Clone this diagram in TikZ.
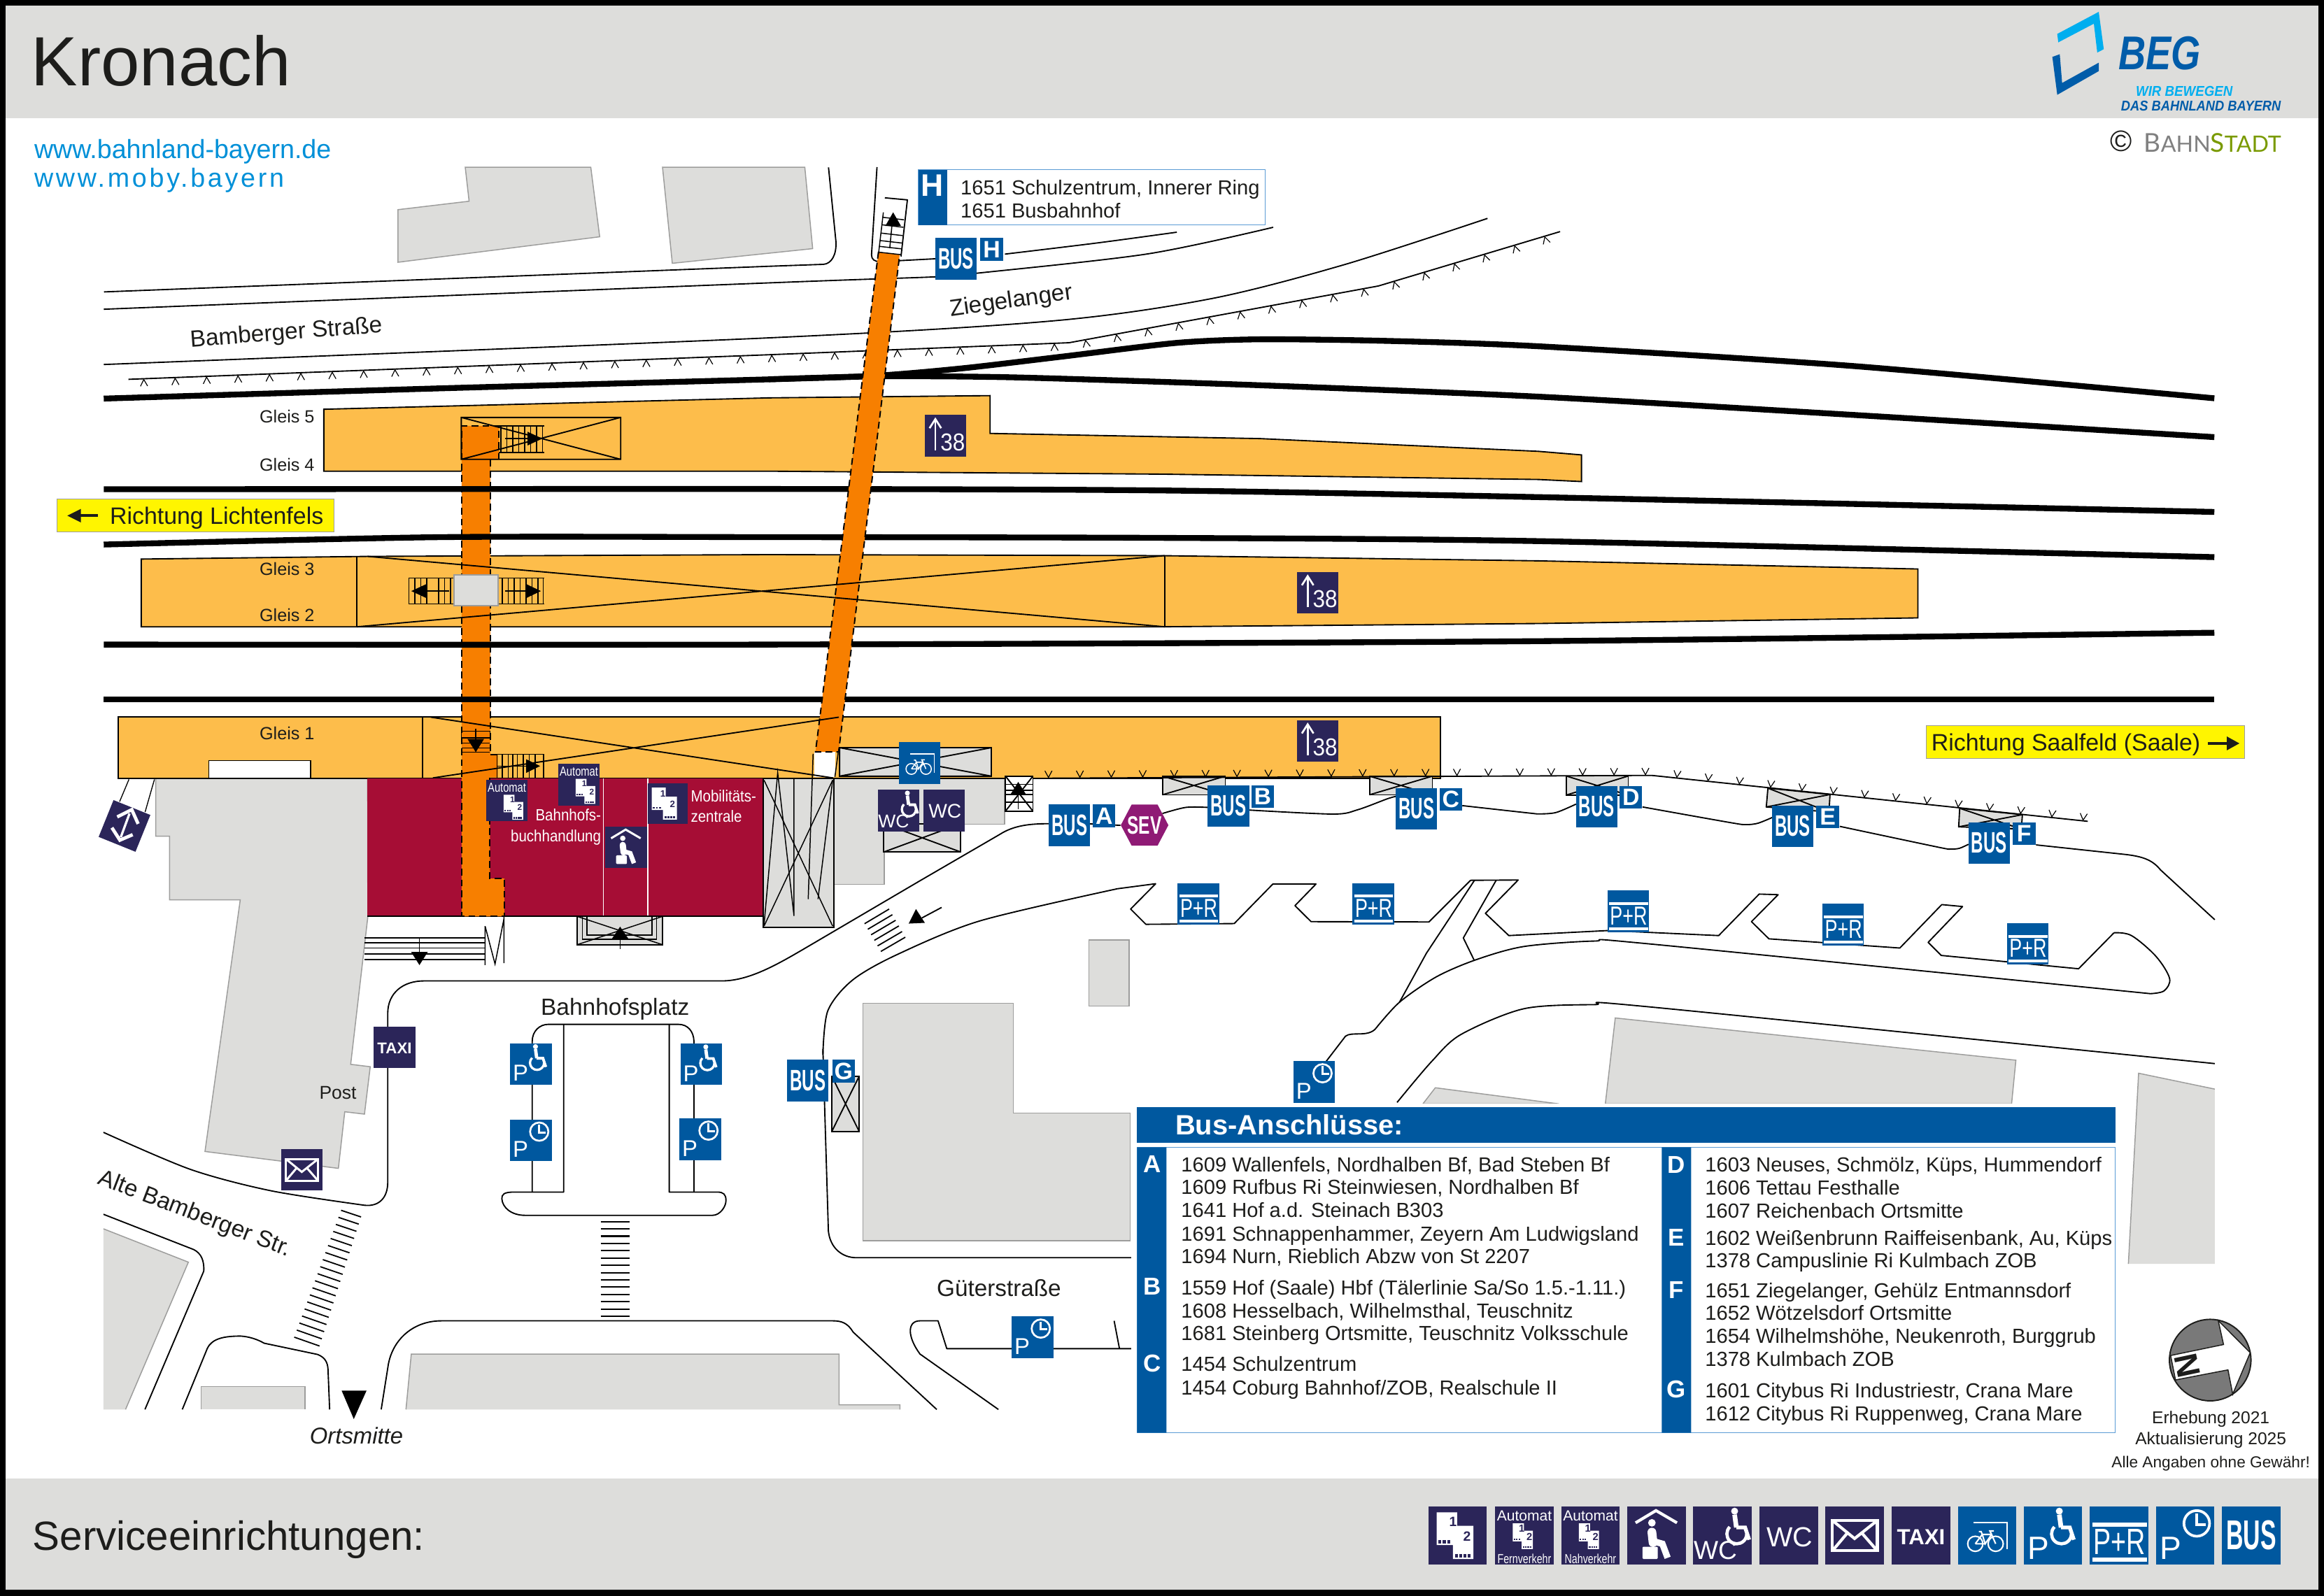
\documentclass[tikz,border=0pt]{standalone}
\usepackage{fontspec}
\setmainfont{Liberation Sans}
\newfontfamily\latof{Lato}
\usetikzlibrary{decorations.markings}
\definecolor{navyc}{HTML}{2B2559}
\definecolor{blueb}{HTML}{00589F}
\definecolor{plat}{HTML}{FDBD4B}
\definecolor{oran}{HTML}{F77F00}
\definecolor{burg}{HTML}{A60D35}
\definecolor{purp}{HTML}{8F1A75}
\definecolor{grayb}{HTML}{DDDDDB}
\definecolor{grayl}{HTML}{9D9D9C}
\definecolor{yelw}{HTML}{FFF500}
\definecolor{cyant}{HTML}{0090D8}
\definecolor{inkc}{HTML}{1D1D1B}
\definecolor{lblue}{HTML}{00AEEF}
\definecolor{dblue}{HTML}{005CA9}
\definecolor{edgeb}{HTML}{5B9BD5}
\definecolor{stadt}{HTML}{7A9A01}
\newcommand{\fu}[1]{\fontsize{\fpeval{round((#1)*1.42264,2)}}{\fpeval{round((#1)*1.6,2)}}\selectfont}
\newcount\nodeid
\tikzset{
 autoname/.code={\global\advance\nodeid by 1 \tikzset{name=auto\the\nodeid}},
 road/.style={line width=1.25pt,line join=round,draw=black},
 track/.style={line width=5.6pt,draw=black,line join=round},
 bld/.style={fill=grayb,draw=grayl,line width=1pt},
 platf/.style={fill=plat,draw=black,line width=1.25pt},
 dsh/.style={draw=black,line width=1.3pt,dash pattern=on 6.5pt off 4pt},
 xb/.style={draw=black,line width=1.25pt},
 stp/.style={draw=black,line width=1pt},
 sgn/.style={inner sep=0pt,outer sep=0pt,draw=none},
 wt/.style={autoname,text=white,inner sep=0pt,text depth=0pt},
 lab/.style={autoname,text=inkc,inner sep=0pt,text depth=0pt},
 wl/.style={line width=#1*\sgnu mm},
 ltr/.style={fill=blueb,text=white,inner sep=0pt,minimum size=7.65mm,font=\fu{16}\bfseries},
 pl/.style={autoname,text=inkc,inner sep=0pt,anchor=base west,font=\fu{13.75}},
 pletter/.style={autoname,text=white,inner sep=0pt,text depth=0pt,font=\fu{16.5}\bfseries},
 ticked top/.style={postaction={decorate},decoration={markings,mark=between positions 5.15mm and 1 step 10.6mm with {\draw[line width=.8pt] (-2.4,5) -- (0,.5) -- (2.4,5);}}},
 ticked low/.style={postaction={decorate},decoration={markings,mark=between positions 0.2mm and 1 step 10.6mm with {\draw[line width=.8pt] (-2.4,-5) -- (0,-.5) -- (2.4,-5);}}},
}
\newcommand{\signbox}[6]{%
 \node[sgn,fill=#5,minimum size={#4*0.5mm}] (#1) at ({#2+#4/2},{#3+#4/2}) {};
 \pgfmathsetmacro{\sgnu}{#4*0.005}%
 \begin{scope}[shift={(#2,#3)},x=\sgnu mm,y=-\sgnu mm,every node/.append style={scale=#4/28}]#6\end{scope}}
\newcommand{\ltrsign}[4]{\node[ltr] (#1) at ({#2+7.65},{#3+7.65}) {#4};}
\newcommand{\xbox}[4]{\draw[xb,fill=grayb] (#1,#2) rectangle (#3,#4); \draw[xb] (#1,#2) -- (#3,#4) (#1,#4) -- (#3,#2);}
\newcommand{\tri}[6]{\fill[black] (#1,#2) -- (#3,#4) -- (#5,#6) -- cycle;}
\newcommand{\icBus}{\node[wt,font=\fu{20}\bfseries,xscale=.57] at (50,49) {BUS};}
\newcommand{\icP}{\node[wt,font=\fu{15.5}] at (25,72) {P};}
\newcommand{\icClock}{\icP\draw[white,wl=4.5] (70,29) circle[radius=22]; \draw[white,wl=4.5] (70,12) -- (70,31) -- (86,31);}
\newcommand{\icChair}[1]{\begin{scope}[shift={(#1,0)}]
 \fill[white] (71,8) circle[radius=6];
 \draw[white,wl=8] (71,14) -- (74,36);
 \draw[white,wl=6.5] (74,36) -- (89,36) -- (96,57);
 \draw[white,wl=5.5] (62.7,35) arc[start angle=225,end angle=0,radius=17];
 \end{scope}}
\newcommand{\icPchair}{\icP\icChair{-10}}
\newcommand{\icWc}{\node[wt,font=\fu{13.3}] at (52,52) {WC};}
\newcommand{\icWcChair}{\node[wt,font=\fu{12.5}] at (38,75) {WC};\icChair{0}}
\newcommand{\icTaxi}{\node[wt,font=\fu{10.5}\bfseries] at (50,52) {TAXI};}
\newcommand{\icPR}{\fill[white] (4,28) rectangle (98,35); \fill[white] (4,88) rectangle (98,95);
 \node[wt,font=\fu{17.6},xscale=.72] at (51,61) {P+R};}
\newcommand{\icBike}{\draw[white,wl=2.5] (27,28) -- (85,28) -- (85,73);
 \draw[white,wl=2.5] (30,64) circle[radius=13] (65,64) circle[radius=13];
 \draw[white,wl=2.5] (30,64) -- (42,48) -- (58,48) -- (65,64) (42,48) -- (47,64) -- (58,48) (47,64) -- (30,64) (58,48) -- (55,42) -- (62,42) (42,48) -- (40,43) -- (36,43);}
\newcommand{\icMail}{\draw[white,wl=5] (12,24) rectangle (89,76);
 \draw[white,wl=5] (12,24) -- (50,55) -- (89,24) (12,76) -- (38,45) (89,76) -- (62,45);}
\newcommand{\icWait}{\draw[white,wl=5] (14,28) -- (49,7) -- (85,28);
 \fill[white] (42,28) circle[radius=6.5];
 \draw[white,wl=15,line cap=round] (42,44) -- (44,62);
 \draw[white,wl=11] (46,60) -- (60,64) -- (69,88);
 \fill[white,rounded corners=.3mm] (26,69) rectangle (52,90);}
\newcommand{\icTick}[3]{\begin{scope}[shift={(#1,#2)},scale=#3]
 \fill[white] (14,10) -- (49,10) -- (49,33) -- (77,33) -- (77,90) -- (42,90) -- (42,66) -- (14,66) -- cycle;
 \node[wt,text=navyc,font=\fu{3+3.5*#3}\bfseries] at (42,26) {1};
 \node[wt,text=navyc,font=\fu{3+3.5*#3}\bfseries] at (66,51) {2};
 \foreach \q in {17,24.5,32} {\fill[navyc] (\q,58) rectangle +(5,5);}
 \foreach \q in {46,53,60,67} {\fill[navyc] (\q,82) rectangle +(5,5);}
 \end{scope}}
\newcommand{\icUp}{\draw[white,wl=4.5] (26,85) -- (26,14); \draw[white,wl=4.5] (12,32) -- (26,10) -- (40,32);
 \node[wt,font=\fu{16.5},xscale=.9] at (68,65) {38};}
\newcommand{\pline}[3]{\node[pl] at ({#1},{#2+4.9}) {#3};}
\begin{document}
\begin{tikzpicture}[x=0.5mm,y=-0.5mm]
\useasboundingbox (0,0) rectangle (1568,1077.1);
% frame
\fill[black] (0,0) rectangle (1568,1077.1);
\fill[white] (4,4) rectangle (1564,1073);
\fill[grayb] (4,4) rectangle (1564,80);
\fill[grayb] (4,998) rectangle (1564,1073);
\node[lab,anchor=west,font=\fu{47}] (title) at (21,41) {Kronach};
\node[lab,anchor=west,font=\fu{27.5}] (service) at (22,1036) {Serviceeinrichtungen:};
\node[autoname,anchor=west,inner sep=0pt,text=cyant,font=\fu{17.75}] at (23,102.3) {www.bahnland-bayern.de};
\node[autoname,anchor=west,inner sep=0pt,text=cyant,font=\fu{17.75}\addfontfeature{LetterSpace=10}] at (23,121.5) {www.moby.bayern};
% logo
\fill[lblue] (1388,22.9) -- (1416,8) -- (1419.4,33.2) -- (1415,35.5) -- (1412.7,16) -- (1388.7,28.6) -- cycle;
\fill[dblue] (1384.7,38.4) -- (1389.7,36.6) -- (1391.3,56) -- (1416,42.3) -- (1416,48) -- (1388,64) -- cycle;
\node[autoname,inner sep=0pt,text=dblue,font=\fu{32}\bfseries\itshape,xscale=.8] at (1457,36) {BEG};
\node[autoname,inner sep=0pt,text=lblue,font=\fu{9.6}\bfseries\itshape,xscale=.92] at (1473.7,61.7) {WIR BEWEGEN};
\node[autoname,inner sep=0pt,text=dblue,font=\fu{9.6}\bfseries\itshape,xscale=.9] at (1485,71.5) {DAS BAHNLAND BAYERN};
\node[autoname,inner sep=0pt,text=inkc,font=\fu{20}] at (1431.3,95.4) {©};
\node[autoname,inner sep=0pt,anchor=base west,font=\latof] at (1446.5,102.5) {\textcolor{gray}{\fu{17.5}B\fu{15.2}AHN}\textcolor{stadt}{\fu{17.5}S\fu{15.2}TADT}};
% buildings
\path[bld] (313.9,112.9) -- (398.6,112.9) -- (404.6,159.8) -- (268.5,177) -- (268.5,141.5) -- (316.5,135.8) -- cycle;
\path[bld] (447,112.9) -- (543,112.9) -- (548.3,167.8) -- (453.6,177.7) -- cycle;
\path[bld] (105.1,525.4) -- (248,525.4) -- (248.2,618.5) -- (236.6,718.3) -- (249.8,719.9) -- (245.9,751.9) -- (232.6,750.3) -- (228.3,788.5) -- (138.3,777.1) -- (162.1,607.3) -- (114.4,607.3) -- (114.4,564.3) -- (105.1,564.3) -- cycle;
\path[bld] (562.8,524) -- (677.7,524) -- (677.7,556.3) -- (596.6,556.3) -- (596.6,596.8) -- (562.8,596.8) -- cycle;
\path[bld] (734.7,634.3) rectangle (761.8,678.9);
\path[bld] (582.3,677) -- (683.7,677) -- (683.7,751.2) -- (762.5,751.2) -- (762.5,837.4) -- (582.3,837.4) -- cycle;
\path[bld] (1089.8,687) -- (1360.1,715.5) -- (1357.2,745) -- (1083.1,745) -- cycle;
\path[bld] (960,745) -- (968.4,734.1) -- (1051.9,745) -- cycle;
\fill[grayb] (1442.9,724.3) -- (1494.3,735) -- (1494.3,853) -- (1436,853) -- cycle;
\draw[grayl,line width=1pt] (1436,853) -- (1442.9,724.3) -- (1494.3,735);
\fill[grayb] (69.8,829.3) -- (127.1,851.8) -- (84.7,951.2) -- (69.8,951.2) -- cycle;
\draw[grayl,line width=1pt] (69.8,829.3) -- (127.1,851.8) -- (84.7,951.2);
\fill[grayb] (135.7,935.8) rectangle (205.7,951.2);
\draw[grayl,line width=1pt] (135.7,951.2) |- (205.7,935.8) -- (205.7,951.2);
\fill[grayb] (277.5,913.8) -- (566.1,913.8) -- (566.1,948.1) -- (607.2,948.1) -- (607.2,951.2) -- (273.9,951.2) -- cycle;
\draw[grayl,line width=1pt] (273.9,951.2) -- (277.5,913.8) -- (566.1,913.8) -- (566.1,948.1) -- (607.2,948.1) -- (607.2,951.2);
% platforms
\path[platf] (218.5,276.2) -- (519,268.5) -- (668,267) -- (668,292.5) -- (850,296) -- (1038,304.6) -- (1067,307) -- (1067,325) -- (1038,323.6) -- (784,320) -- (519,318) -- (218.5,318) -- cycle;
\path[platf] (95.3,377.3) -- (248,375.5) -- (519,374.3) -- (784,375) -- (1038,378.5) -- (1294,384) -- (1294,417) -- (1038,420.8) -- (784,423) -- (95.3,423) -- cycle;
\path[platf] (79.6,484) rectangle (971.8,525.4);
\fill[white] (141,513.3) rectangle (209.5,525);
\draw[line width=1pt] (141,525) |- (209.5,513.3) -- (209.5,525);
\draw[line width=1pt] (240.7,375.5) -- (240.7,423) (785.8,375) -- (785.8,423) (285,484) -- (285,525.4);
% station building
\fill[burg] (248,525.4) rectangle (514.7,618.5);
\draw[line width=1.25pt] (248,618.5) -- (514.7,618.5);
\draw[white,line width=1.2pt] (407.1,525.4) -- (407.1,618.5) (437.2,525.4) -- (437.2,618.5);
% left underpass
\path[fill=oran] (311.5,287.4) -- (336.7,287.4) -- (336.7,310.3) -- (330.8,310.3) -- (330.8,509.4) -- (335.9,509.4) -- (335.9,524.7) -- (330.6,524.7) -- (330.6,592.9) -- (340.2,592.9) -- (340.2,618.5) -- (311.5,618.5) -- cycle;
\draw[dsh] (336.7,310.3) -- (336.7,287.4) -- (311.5,287.4) -- (311.5,618.5) -- (340.2,618.5) -- (340.2,592.9) -- (330.6,592.9) -- (330.6,524.7);
\draw[dsh] (330.8,310.3) -- (330.8,509.4) -- (335.9,509.4);
% tracks
\draw[track] plot[smooth,tension=.45] coordinates {(70,269) (300,262) (519,256) (592,253.5) (650,248.5) (718,240.5) (794,231.4) (850,229) (933,230) (1038,233.7) (1250,247) (1494,268.8)};
\draw[track] plot[smooth,tension=.45] coordinates {(519,256) (592,254) (685,254.7) (850,260) (1038,267.7) (1250,280) (1494,295)};
\draw[track] plot[smooth,tension=.45] coordinates {(70,330.2) (519,330) (784,331) (1038,335.5) (1494,345.5)};
\draw[track] plot[smooth,tension=.45] coordinates {(70,367.5) (298,362.5) (519,362.5) (784,363) (1038,365.2) (1494,376)};
\draw[track] plot[smooth,tension=.45] coordinates {(70,435) (519,435) (1038,432.7) (1494,427)};
\draw[track] (70,471.9) -- (1494,471.9);
% roads, top
\draw[road] (70.2,197) -- (519,179.7) -- (555.6,178.4) .. controls (561,178) and (564.5,172) .. (564,163) -- (559,113);
\draw[road] plot[smooth,tension=.5] coordinates {(70,208.7) (519,190.9) (631.8,186.8) (658,184.5) (774,171.4) (859,153.4)};
\draw[road] (591.7,112.8) -- (588,172) .. controls (588,175) and (590,176.6) .. (593.8,176.6) -- (631.8,174.6);
\draw[road] plot[smooth,tension=.5] coordinates {(678,171.5) (740,164) (794,156.7)};
\draw[road] plot[smooth,tension=.5] coordinates {(70,246) (519,228) (711,216.5) (817,201.6) (906.7,178.7) (1003.6,147.4)};
\draw[road,ticked top] (86.7,256) -- (519,239.4) -- (721.3,231.3) -- (930,193) -- (1052.6,156.3);
% roads, station forecourt
\draw[road] plot[smooth,tension=.5] coordinates {(69.8,764.2) (128.5,789.2) (182.7,803.6) (245.9,813.4)};
\draw[road] (245.9,813.4) .. controls (256,814.5) and (261.6,808) .. (261.6,798) -- (261.6,684) .. controls (261.6,670) and (272,662) .. (286,662) -- (487,662) .. controls (506,662) and (526,650) .. (545.3,638.7) -- (621.4,594) -- (674.4,563.2) .. controls (684,557) and (695,555.9) .. (707.5,555.9);
\draw[road] (735,556) -- (756,557);
\draw[road] plot[smooth,tension=.5] coordinates {(784.3,549) (800,544.9) (814.8,544.9)};
\draw[road] plot[smooth,tension=.5] coordinates {(843,546.7) (899.5,549.4) (916,546.5) (936,539.1) (941.6,537.5)};
\draw[road] plot[smooth,tension=.5] coordinates {(986.6,543.7) (1031.7,548.7) (1039,549.3) (1050,548.3) (1063.3,542.7)};
\draw[road] plot[smooth,tension=.5] coordinates {(1108.2,544.6) (1167.7,555.2) (1178,556.5) (1186,555.6) (1195.7,551.7)};
\draw[road] plot[smooth,tension=.5] coordinates {(1241.3,557.7) (1307.5,571.7) (1316,573) (1322,572.5) (1328.1,569.8)};
\draw[road] (1373.7,570.2) -- (1434.4,576.7) .. controls (1445,578) and (1452,580) .. (1457.6,587) -- (1494.3,620.7);
% lane island
\draw[road] plot[smooth,tension=.5] coordinates {(555.2,711.9) (558.5,682.2) (575,661.6) (604.9,644.4) (661.1,621.5) (753.9,599.8)};
\draw[road] (753.9,599.8) -- (779.7,596.4) -- (762.8,613.5) -- (773.1,623.8) -- (832.7,623.3) -- (858.8,596.6) -- (887.9,596.6) -- (873.7,611.2) -- (884.6,622) -- (964.1,622.2) -- (992.2,594.1) -- (1024.3,593.9) -- (1002.2,616.4) -- (1018,631.4) -- (1085,628) -- (1159.6,631.4) -- (1186.9,603.4) -- (1199.7,603.8) -- (1181.7,622) -- (1193.5,633.6) -- (1281.8,639.8) -- (1310.1,610.5) -- (1324.1,611.8) -- (1300.9,636) -- (1309.7,644.8) -- (1402.4,653.8) -- (1426.3,629.5);
\draw[road] plot[smooth,tension=.55] coordinates {(1426.3,629.5) (1438.1,631.4) (1454.6,645.4) (1463.8,660.3) (1460.1,668.7) (1450.9,670.6)};
\draw[road] plot[smooth,tension=.5] coordinates {(1450.9,670.6) (1112.6,637) (1075.8,635.1) (1028,638.8) (995.6,647.8) (969,659.3) (944.2,676.4) (927.7,694.7)};
\draw[road] (927.7,694.7) .. controls (922,700) and (912,696) .. (907.8,699.3) -- (894.6,716.5);
\draw[road] (944.2,676.4) -- (962.4,643.3) -- (994.9,594);
\draw[road] (1009.5,594) -- (987.3,633) -- (994.5,647.8);
\draw[road] plot[smooth,tension=.5] coordinates {(942.6,744) (965.8,716.5) (985.6,698.2) (1028,680.8) (1075.8,678) (1112.6,679.5) (1494.3,717.8)};
% roads, south
\draw[road] (555.2,707.9) -- (558.9,830.7) .. controls (560,842) and (568,848.8) .. (577.8,848.8) -- (767,848.8);
\draw[road] (359.1,804.5) -- (359.1,702.7) .. controls (359.1,696) and (364,691.3) .. (370,691.3) -- (457.7,691.3) .. controls (464,691.3) and (468,696) .. (468.2,702.7) -- (468.2,804.5);
\draw[road] (380.3,691.3) -- (380.3,804.5) -- (347,804.5) .. controls (340,804.5) and (338.5,806) .. (338.6,809) .. controls (339,815) and (345,820.2) .. (354.3,820.2) -- (480.7,820.2) .. controls (486,820.2) and (490,814) .. (489.8,810) .. controls (489.8,806) and (488,804.5) .. (484,804.5) -- (451.5,804.5) -- (451.5,691.3);
\draw[road] (69.8,819.5) -- (130.7,843.3) .. controls (136,846) and (137.8,851) .. (137.5,857.8) -- (97.8,951.2);
\draw[road] (123,951.2) -- (139.8,910.2) .. controls (143,903) and (152,901.7) .. (162.4,901.7) .. controls (168,902) and (174,904) .. (178.2,906.5) -- (214.3,914.1) .. controls (219,916) and (221,919) .. (221.3,924) -- (222.4,951.2);
\draw[road] (257.2,951.2) -- (261.7,922.8) .. controls (264,905) and (278,891.4) .. (297.8,891.4) -- (562,891.4) .. controls (568,891.4) and (572,893) .. (575.6,899) -- (632,951.2);
\draw[road] (673.6,951.2) -- (620.7,913.8) .. controls (612,902) and (612,891.4) .. (620.7,891.4) -- (632.9,891.4) -- (638.8,910.2) -- (767,910.2);
\draw[road] (751.7,891.4) -- (755.3,910.2);
% crossings
\foreach \t in {0,...,18} {\draw[line width=1.2pt] ({230.1-31.6*\t/18},{816.8+85.6*\t/18}) -- ({243.6-28*\t/18},{821.3+87.1*\t/18});}
\foreach \t in {0,...,13} {\draw[line width=1.4pt] (405.3,{824.4+4.92*\t}) -- (424.7,{824.4+4.92*\t});}
\foreach \t in {0,...,5} {\draw[line width=1.2pt] ({583.3+2.2*\t},{623.4+3.74*\t}) -- ({599.9+2.18*\t},{613.5+3.8*\t});}
\draw[road] (635.3,612.4) -- (622,619.5);
\tri{613.1}{623.3}{618}{613.5}{624}{622.8}
\tri{230.5}{938.5}{247.3}{938.5}{238.7}{957.7}
% right footbridge
\fill[white] (549.2,507.6) -- (563.5,507.6) -- (563.5,524.3) -- (549.2,524.3) -- cycle;
\fill[oran] (592.7,170) -- (607,172) -- (565.8,507.5) -- (550.2,507.5) -- cycle;
\draw[dsh] (592.7,170) -- (550.2,507.5) -- (565.8,507.5) -- (607,172);
% platform crossings
\draw[xb] (248,375.5) -- (785.8,423) (241,423) -- (785.8,375);
\draw[xb] (290.6,484) -- (562,525) (292,525) -- (566,484);
\draw[xb] (311.2,281.7) rectangle (418.8,310) (311.2,281.7) -- (418.8,310) (311.2,310) -- (418.8,281.7);
% stairs over bridge 4/5
\draw[stp] (336.7,287.4) -- (367,287.4) (336.7,305.3) -- (367,305.3);
\foreach \q in {338,342,346,350,354,358,362,366} {\draw[stp] (\q,287.4) -- (\q,305.3);}
\draw[stp] (341,296) -- (356,296); \tri{365.9}{296}{356}{291.4}{356}{300.6}
% concourse 2/3
\path[bld,line width=1.4pt] (306.3,388.1) rectangle (336,408.8);
\draw[stp] (275.5,390) -- (306,390) (275.5,407.6) -- (306,407.6) (336.7,390) -- (367,390) (336.7,407.6) -- (367,407.6);
\foreach \q in {276,280,284,288,296,300,304} {\draw[stp] (\q,390) -- (\q,407.6);}
\foreach \q in {339,343,347,351,355,359,363,366.5} {\draw[stp] (\q,390) -- (\q,407.6);}
\draw[stp] (287,398.9) -- (303,398.9) (341,398.9) -- (356,398.9);
\tri{277.5}{398.9}{287.4}{394.3}{287.4}{403.5}
\tri{364.9}{398.9}{355.3}{394.3}{355.3}{403.5}
% stairs platform 1
\draw[stp] (311.4,493.4) -- (330.6,493.4) (311.4,498) -- (330.6,498) (311.4,501.4) -- (330.6,501.4) (311.4,504.8) -- (330.6,504.8) (311.4,507.6) -- (330.6,507.6);
\draw[stp] (311.4,493.4) -- (311.4,498) (330.6,493.4) -- (330.6,498);
\draw[stp] (321,491.6) -- (321,499); \tri{321}{507.6}{315.4}{498.7}{326.6}{498.7}
\draw[stp] (335.3,509) -- (366.7,509);
\foreach \q in {335.3,339,343,346,349,353,357,361,366.7} {\draw[stp] (\q,509) -- (\q,524.7);}
\draw[stp] (335,517) -- (355,517); \tri{364.4}{517}{355}{512.4}{355}{521.6}
% stair block
\draw[line width=1.5pt,fill=grayb] (514.8,525.4) rectangle (562.8,626);
\draw[line width=1pt] (515.5,624) -- (524.7,521.5) -- (535.7,618.1) -- (535.7,525.4);
\draw[line width=1pt] (515.5,526.5) -- (561.8,625) (515.5,625) -- (561.8,526.5);
\draw[line width=1pt] (545.3,606.8) -- (548.6,508.7) (551.9,606.8) -- (561.8,526.5);
\draw[line width=1pt] (563.3,524.3) -- (565.5,508);
% entrance
\draw[line width=1.25pt,fill=grayb] (389.6,618.5) rectangle (446.8,637.5);
\draw[line width=1pt] (393,618.5) -- (393,634) -- (443,634) -- (443,618.5) (396,618.5) -- (396,631) -- (440,631) -- (440,618.5);
\draw[line width=1pt] (389.6,618.5) -- (446.8,637.5) (446.8,618.5) -- (389.6,637.5);
\draw[stp] (418.4,632) -- (418.4,640.5); \tri{418.4}{625.4}{412.8}{633.6}{424}{633.6}
% steps left
\foreach \q in {632.9,636.4,639.8,643.7,647.4} {\draw[line width=1.25pt] (245.9,\q) -- (327.3,\q);}
\draw[stp] (283,632.9) -- (283,643); \tri{283}{651.3}{277.4}{642.5}{288.6}{642.5}
\draw[stp] (327.3,625) -- (327.3,651.3) (327.3,625) -- (334,650.6) -- (340,620) (340,618.5) -- (340,650);
% boxes
\path[xb,fill=grayb] (566.5,504.6) rectangle (668.8,523.8);
\draw[xb] (566.5,504.6) rectangle (668.8,523.8) (566.5,504.6) -- (668.8,523.8) (566.5,523.8) -- (668.8,504.6);
\xbox{596.3}{555.9}{648.2}{575}
\draw[xb,fill=white] (678.4,523.8) rectangle (696.9,547.4);
\draw[xb] (678.4,523.8) -- (696.9,547.4) (696.9,523.8) -- (678.4,547.4);
\foreach \q in {529.3,533.4,536.2,541.4} {\draw[stp] (678.4,\q) -- (696.9,\q);}
\draw[stp] (687,530) -- (687,546); \tri{687}{527.7}{681.7}{536.2}{692.3}{536.2}
\xbox{784.3}{523.8}{826.7}{536.4}
\xbox{924}{523.8}{966.4}{536.4}
\xbox{1056.7}{523.7}{1098.6}{536.6}
\draw[xb,fill=grayb] (1192.8,531.9) -- (1234.7,536.2) -- (1234,548) -- (1191.7,544.6) -- cycle;
\draw[xb] (1192.8,531.9) -- (1234,548) (1234.7,536.2) -- (1191.7,544.6);
\draw[xb,fill=grayb] (1322.2,545.5) -- (1364.5,549.8) -- (1363.8,559.5) -- (1321.5,558) -- cycle;
\draw[xb] (1322.2,545.5) -- (1363.8,559.5) (1364.5,549.8) -- (1321.5,558);
\xbox{561.2}{726.3}{579.7}{763.6}
% top ladder
\draw[road] (597,133.5) -- (612.2,134.9) -- (607.9,173.1);
\draw[stp] (596,143.3) -- (592.7,171.5);
\foreach \t in {.12,.3,.5,.68,.82,.96} {\draw[stp] ({596-3.3*\t},{143.3+28*\t}) -- ({610.3-2.4*\t},{145+28*\t});}
\draw[stp] (600.3,167.4) -- (602,150); \tri{602.6}{143.3}{597.3}{152.5}{607.9}{152.5}
% fence low
\draw[road,ticked low] (707,525.2) -- (1114.4,523.3) -- (1408.6,554.3);
% kiosk lines
\draw[line width=.9pt] (87,526) -- (80.7,541) (104.2,526) -- (97.9,548);
% named signs
\signbox{up1}{623.8}{280}{28}{navyc}{\icUp}
\signbox{up2}{875}{386}{28}{navyc}{\icUp}
\signbox{up3}{875}{486}{28}{navyc}{\icUp}
\signbox{bike}{606.5}{501}{28}{blueb}{\icBike}
\signbox{wcc}{592.3}{533}{28}{navyc}{\icWcChair}
\signbox{wc}{623}{533}{28}{navyc}{\icWc}
\signbox{busA}{707.5}{543}{28}{blueb}{\icBus}
\ltrsign{letA}{737.3}{543}{A}
\fill[purp] (756.2,556.9) -- (763.5,543) -- (781,543) -- (788.3,556.9) -- (781,570.7) -- (763.5,570.7) -- cycle;
\node[wt,font=\fu{17}\bfseries,xscale=.68] (sev) at (772.2,557) {SEV};
\signbox{busB}{814.8}{530}{28}{blueb}{\icBus}
\ltrsign{letB}{844.2}{530}{B}
\signbox{busC}{941.7}{531.8}{28}{blueb}{\icBus}
\ltrsign{letC}{971.2}{531.8}{C}
\signbox{busD}{1063.3}{530.4}{28}{blueb}{\icBus}
\ltrsign{letD}{1092.7}{530.4}{D}
\signbox{busE}{1195.5}{543.7}{28}{blueb}{\icBus}
\ltrsign{letE}{1225.5}{543.7}{E}
\signbox{busF}{1328}{555}{28}{blueb}{\icBus}
\ltrsign{letF}{1358}{555}{F}
\signbox{busG}{531}{715.3}{28}{blueb}{\icBus}
\ltrsign{letG}{561.5}{715.3}{G}
\signbox{busH}{631}{160.7}{28}{blueb}{\icBus}
\ltrsign{letH}{661.5}{160.7}{H}
\signbox{pr1}{794.5}{596}{28}{blueb}{\icPR}
\signbox{pr2}{912.5}{596}{28}{blueb}{\icPR}
\signbox{pr3}{1084.5}{601}{28}{blueb}{\icPR}
\signbox{pr4}{1229.5}{610}{28}{blueb}{\icPR}
\signbox{pr5}{1354}{623}{28}{blueb}{\icPR}
\signbox{pw1}{344.2}{704.1}{28}{blueb}{\icPchair}
\signbox{pw2}{459.1}{704.3}{28}{blueb}{\icPchair}
\signbox{pc1}{344.2}{755.6}{28}{blueb}{\icClock}
\signbox{pc2}{458.4}{754.9}{28}{blueb}{\icClock}
\signbox{pc3}{682.6}{888.5}{28}{blueb}{\icClock}
\signbox{pc4}{872.7}{716.2}{28}{blueb}{\icClock}
\signbox{taxi}{252.2}{692.9}{28}{navyc}{\icTaxi}
\signbox{mail}{189.6}{775.5}{28}{navyc}{\icMail}
\signbox{wait}{408.4}{557.9}{28}{navyc}{\icWait}
\signbox{aut1}{328}{526.3}{28}{navyc}{\node[wt,font=\fu{8.8},xscale=.79] at (50,18) {Automat};\icTick{31.5}{28.5}{.75}}
\signbox{aut2}{376.6}{515.6}{28}{navyc}{\node[wt,font=\fu{8.8},xscale=.79] at (50,18) {Automat};\icTick{31.5}{28.5}{.75}}
\signbox{tick1}{437}{528.8}{27}{navyc}{\icTick{-4}{0}{1}}
% diamond sign
\node[sgn,fill=navyc,minimum size=13.4mm,rotate=-22] (swap) at (84,557.4) {};
\draw[white,line width=2.2pt] (87.4,549) -- (81.5,565);
\draw[white,line width=3.2pt,line join=miter] (79.1,551.3) -- (88.9,546.4) -- (93.2,556);
\draw[white,line width=3.2pt,line join=miter] (75.5,558.6) -- (80.9,567) -- (89.5,563.3);
% info box H
\node[sgn,fill=white,draw=edgeb,line width=.7pt,minimum width=117mm,minimum height=18.65mm] (hbox) at (736.5,133.1) {};
\fill[blueb] (619.5,114.5) rectangle (639,151.8);
\node[pletter,font=\fu{21}\bfseries] at (629,125) {H};
\pline{648}{126.5}{1651 Schulzentrum, Innerer Ring}
\pline{648}{142}{1651 Busbahnhof}
% yellow signs
\node[sgn,fill=yelw,draw=grayl,line width=.6pt,minimum width=93.5mm,minimum height=11.1mm] (ylw1) at (132,348) {};
\draw[inkc,line width=2.6pt] (54,348) -- (66.2,348);
\fill[inkc] (45.4,348) -- (54.6,343.4) -- (54.6,352.6) -- cycle;
\node[lab,anchor=west,font=\fu{16}] at (74,348) {Richtung Lichtenfels};
\node[sgn,fill=yelw,draw=grayl,line width=.6pt,minimum width=107.4mm,minimum height=11.1mm] (ylw2) at (1406.8,500.8) {};
\draw[inkc,line width=2.6pt] (1489.6,501.7) -- (1503,501.7);
\fill[inkc] (1510.9,501.7) -- (1502.4,497) -- (1502.4,506.4) -- cycle;
\node[lab,anchor=west,font=\fu{16}] at (1303,501) {Richtung Saalfeld (Saale)};
% panel
\fill[white] (763,745) rectangle (1432,972);
\fill[blueb] (767.2,747) rectangle (1427.3,771.2);
\node[wt,anchor=west,font=\fu{18.84}\bfseries] (panelhead) at (792.9,759) {Bus-Anschlüsse:};
\node[sgn,fill=white,draw=edgeb,line width=.7pt,minimum width=330.05mm,minimum height=96.35mm] (panel) at (1097.25,870.65) {};
\fill[blueb] (767.2,774.3) rectangle (787,967) (1121.2,774.3) rectangle (1141,967);
\node[pletter] at (777.5,785.5) {A};
\node[pletter] at (777.5,868.4) {B};
\node[pletter] at (777.5,920.3) {C};
\node[pletter] at (1131,786.3) {D};
\node[pletter] at (1131,835.4) {E};
\node[pletter] at (1131,870.8) {F};
\node[pletter] at (1131,937.3) {G};
\pline{796.8}{785.8}{1609 Wallenfels, Nordhalben Bf, Bad Steben Bf}
\pline{796.8}{801.2}{1609 Rufbus Ri Steinwiesen, Nordhalben Bf}
\pline{796.8}{816.8}{1641 Hof a.d. Steinach B303}
\pline{796.8}{832.5}{1691 Schnappenhammer, Zeyern Am Ludwigsland}
\pline{796.8}{848}{1694 Nurn, Rieblich Abzw von St 2207}
\pline{796.8}{868.9}{1559 Hof (Saale) Hbf (Tälerlinie Sa/So 1.5.-1.11.)}
\pline{796.8}{884.5}{1608 Hesselbach, Wilhelmsthal, Teuschnitz}
\pline{796.8}{899.9}{1681 Steinberg Ortsmitte, Teuschnitz Volksschule}
\pline{796.8}{920.6}{1454 Schulzentrum}
\pline{796.8}{936.4}{1454 Coburg Bahnhof/ZOB, Realschule II}
\pline{1150.3}{786.1}{1603 Neuses, Schmölz, Küps, Hummendorf}
\pline{1150.3}{801.6}{1606 Tettau Festhalle}
\pline{1150.3}{817.3}{1607 Reichenbach Ortsmitte}
\pline{1150.3}{835.4}{1602 Weißenbrunn Raiffeisenbank, Au, Küps}
\pline{1150.3}{850.8}{1378 Campuslinie Ri Kulmbach ZOB}
\pline{1150.3}{870.8}{1651 Ziegelanger, Gehülz Entmannsdorf}
\pline{1150.3}{886.2}{1652 Wötzelsdorf Ortsmitte}
\pline{1150.3}{901.8}{1654 Wilhelmshöhe, Neukenroth, Burggrub}
\pline{1150.3}{917.2}{1378 Kulmbach ZOB}
\pline{1150.3}{938.6}{1601 Citybus Ri Industriestr, Crana Mare}
\pline{1150.3}{954}{1612 Citybus Ri Ruppenweg, Crana Mare}
% compass
\node[sgn,circle,fill=gray!95!black,draw=inkc,line width=1.3pt,minimum size=27.5mm] (compass) at (1491.2,917.9) {};
\draw[fill=white,draw=inkc,line width=1pt] (1464.5,914.8) -- (1500.2,907.4) -- (1496.6,891.2) -- (1518.2,912.9) -- (1506.4,940.9) -- (1503.2,924.5) -- (1467.8,931.3) -- cycle;
\node[lab,font=\fu{22}\bfseries,rotate=-78] (northN) at (1475.8,921.8) {N};
\node[lab,font=\fu{11.6}] at (1491.6,956.5) {Erhebung 2021};
\node[lab,font=\fu{11.6}] at (1491.6,970.6) {Aktualisierung 2025};
\node[lab,font=\fu{10.7}] at (1491.6,986.4) {Alle Angaben ohne Gewähr!};
% map labels
\node[lab,font=\fu{11.9},anchor=west] at (175,281) {Gleis 5};
\node[lab,font=\fu{11.9},anchor=west] at (175,313.5) {Gleis 4};
\node[lab,font=\fu{11.9},anchor=west] at (175,384) {Gleis 3};
\node[lab,font=\fu{11.9},anchor=west] at (175,415) {Gleis 2};
\node[lab,font=\fu{11.9},anchor=west] at (175,495) {Gleis 1};
\node[lab,font=\fu{15.8},rotate=4.4] at (193,223.5) {Bamberger Straße};
\node[lab,font=\fu{15.8},rotate=8] at (682,202) {Ziegelanger};
\node[lab,font=\fu{15.8},rotate=-21] at (132,818) {Alte Bamberger Str.};
\node[lab,font=\fu{15.8}] at (415,679.5) {Bahnhofsplatz};
\node[lab,font=\fu{15.7}] at (674,869) {Güterstraße};
\node[lab,font=\fu{12.5}] at (228,737.5) {Post};
\node[lab,font=\fu{15.5}\itshape] at (240.5,969) {Ortsmitte};
\node[wt,anchor=east,font=\fu{11},xscale=.88] at (405.6,550) {Bahnhofs-};
\node[wt,anchor=east,font=\fu{11},xscale=.88] at (405.6,564) {buchhandlung};
\node[wt,anchor=west,font=\fu{11},xscale=.88] at (466,537.3) {Mobilitäts-};
\node[wt,anchor=west,font=\fu{11},xscale=.88] at (466,551) {zentrale};
% legend
\signbox{lg1}{963.8}{1016.7}{39.3}{navyc}{\icTick{0}{0}{1}}
\signbox{lg2}{1008.8}{1016.7}{39.3}{navyc}{\node[wt,font=\fu{7.07}] at (50,16) {Automat};\node[wt,font=\fu{6.3},xscale=.76] at (50,90) {Fernverkehr};\icTick{22.3}{23.5}{.55}}
\signbox{lg3}{1053.4}{1016.7}{39.3}{navyc}{\node[wt,font=\fu{7.07}] at (50,16) {Automat};\node[wt,font=\fu{6.3},xscale=.76] at (50,90) {Nahverkehr};\icTick{22.3}{23.5}{.55}}
\signbox{lg4}{1098}{1016.7}{39.3}{navyc}{\icWait}
\signbox{lg5}{1142.4}{1016.7}{39.3}{navyc}{\icWcChair}
\signbox{lg6}{1187.2}{1016.7}{39.3}{navyc}{\icWc}
\signbox{lg7}{1231.6}{1016.7}{39.3}{navyc}{\icMail}
\signbox{lg8}{1276.4}{1016.7}{39.3}{navyc}{\icTaxi}
\signbox{lg9}{1320.9}{1016.7}{39.3}{blueb}{\icBike}
\signbox{lg10}{1365.4}{1016.7}{39.3}{blueb}{\icPchair}
\signbox{lg11}{1410}{1016.7}{39.3}{blueb}{\icPR}
\signbox{lg12}{1454.6}{1016.7}{39.3}{blueb}{\icClock}
\signbox{lg13}{1499.2}{1016.7}{39.3}{blueb}{\icBus}
\end{tikzpicture}
\end{document}
